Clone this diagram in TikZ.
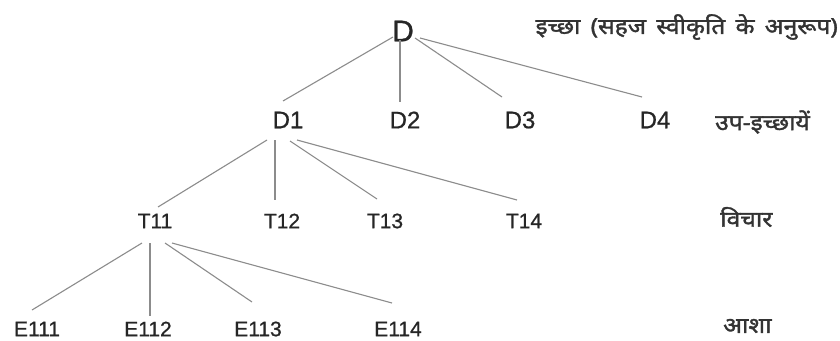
\documentclass[tikz,border=0pt]{standalone}
\usepackage{fontspec}
\setmainfont{Liberation Sans}
\newfontfamily\nodefont[FakeBold=0.8]{Liberation Sans}
\newfontfamily\devfont[Script=Devanagari,FakeBold=1.6,FakeStretch=1.12,WordSpace=1.6]{Noto Sans}
\begin{document}
\begin{tikzpicture}[x=1pt,y=-1pt,
  lvlD/.style={inner sep=0pt,font=\nodefont\fontsize{30}{30}\selectfont,text=black!85},
  lvlA/.style={inner sep=0pt,font=\nodefont\fontsize{24}{24}\selectfont,text=black!85},
  lvlB/.style={inner sep=0pt,font=\nodefont\fontsize{21}{21}\selectfont,text=black!85},
  lbl/.style={inner sep=0pt,font=\devfont\fontsize{22}{22}\selectfont,text=black!80},
  edge/.style={draw=black!45,line width=1.1pt}]
\useasboundingbox[fill=white] (0,0) rectangle (840,340);
% nodes
\node[lvlD] (D) at (403,31) {D};
\node[lvlA] (D1) at (288,120) {D1};
\node[lvlA] (D2) at (405,120) {D2};
\node[lvlA] (D3) at (520,120) {D3};
\node[lvlA] (D4) at (655,120) {D4};
\node[lvlB] (T11) at (155,221) {T11};
\node[lvlB] (T12) at (282,221) {T12};
\node[lvlB] (T13) at (385,221) {T13};
\node[lvlB] (T14) at (524,221) {T14};
\node[lvlB] (E111) at (37,329) {E111};
\node[lvlB] (E112) at (148,329) {E112};
\node[lvlB] (E113) at (258,329) {E113};
\node[lvlB] (E114) at (398,329) {E114};
% labels
\node[lbl,anchor=east] (L0) at (838,27) {इच्छा (सहज स्वीकृति के अनुरूप)};
\node[lbl,anchor=west] (L1) at (715,122) {उप-इच्छायें};
\node[lbl,anchor=west] (L2) at (720,217) {विचार};
\node[lbl,anchor=west] (L3) at (723,326) {आशा};
% edges
\draw[edge] ([shift={(-10pt,-6pt)}]D.center) -- ([shift={(-5pt,19pt)}]D1.center);
\draw[edge] ([shift={(-3pt,-9pt)}]D.center) -- ([shift={(-5pt,18pt)}]D2.center);
\draw[edge] ([shift={(12pt,-7pt)}]D.center) -- ([shift={(-18pt,23pt)}]D3.center);
\draw[edge] ([shift={(17pt,-7pt)}]D.center) -- ([shift={(-13pt,23pt)}]D4.center);
\draw[edge] ([shift={(-21pt,-20pt)}]D1.center) -- ([shift={(3pt,14pt)}]T11.center);
\draw[edge] ([shift={(-13pt,-20pt)}]D1.center) -- ([shift={(-7pt,21pt)}]T12.center);
\draw[edge] ([shift={(2pt,-21pt)}]D1.center) -- ([shift={(-8pt,22pt)}]T13.center);
\draw[edge] ([shift={(9pt,-20pt)}]D1.center) -- ([shift={(-7pt,21pt)}]T14.center);
\draw[edge] ([shift={(-13pt,-22pt)}]T11.center) -- ([shift={(-5pt,19pt)}]E111.center);
\draw[edge] ([shift={(-5pt,-22pt)}]T11.center) -- ([shift={(2pt,13pt)}]E112.center);
\draw[edge] ([shift={(10pt,-22pt)}]T11.center) -- ([shift={(-6pt,27pt)}]E113.center);
\draw[edge] ([shift={(17pt,-22pt)}]T11.center) -- ([shift={(-6pt,26pt)}]E114.center);
\end{tikzpicture}
\end{document}
